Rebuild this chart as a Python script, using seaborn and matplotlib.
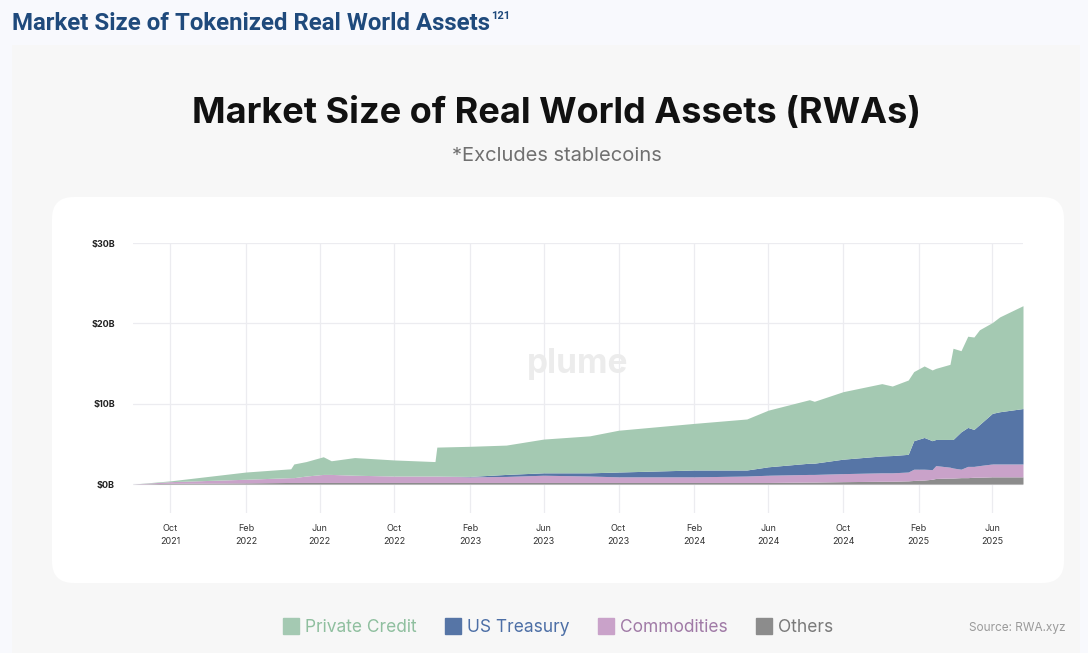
import pandas as pd
import matplotlib.pyplot as plt
import matplotlib.dates as mdates
from matplotlib.patches import FancyBboxPatch, Rectangle
from matplotlib.lines import Line2D
import seaborn as sns

# values, $ billions per category
dates = ["2021-08-01", "2021-10-01", "2022-02-01", "2022-04-15", "2022-04-20",
         "2022-05-10", "2022-06-07", "2022-06-20", "2022-07-28", "2022-10-01",
         "2022-12-06", "2022-12-09", "2023-02-01", "2023-04-01", "2023-06-01",
         "2023-08-15", "2023-10-01", "2024-02-01", "2024-04-27", "2024-06-01",
         "2024-08-07", "2024-08-15", "2024-10-01", "2024-12-03", "2024-12-20",
         "2025-01-15", "2025-01-24", "2025-02-10", "2025-02-23", "2025-03-01",
         "2025-03-24", "2025-03-29", "2025-04-11", "2025-04-22", "2025-05-02",
         "2025-05-11", "2025-06-01", "2025-06-13", "2025-07-21"]
others = [0, 0.1, 0.15, 0.2, 0.2, 0.2, 0.2, 0.2, 0.2, 0.2,
          0.2, 0.2, 0.2, 0.2, 0.2, 0.2, 0.2, 0.2, 0.2, 0.2,
          0.25, 0.25, 0.3, 0.35, 0.35, 0.4, 0.45, 0.5, 0.6, 0.7,
          0.75, 0.75, 0.8, 0.8, 0.85, 0.85, 0.9, 0.9, 0.9]
commodities = [0, 0.2, 0.45, 0.6, 0.6, 0.8, 1.0, 1.0, 0.9, 0.8,
               0.8, 0.8, 0.7, 0.75, 0.9, 0.8, 0.7, 0.7, 0.8, 0.9,
               0.95, 0.95, 1.0, 1.05, 1.05, 1.1, 1.4, 1.35, 1.2, 1.6,
               1.35, 1.25, 1.05, 1.4, 1.35, 1.45, 1.6, 1.6, 1.6]
us_treasury = [0, 0, 0, 0, 0, 0, 0, 0, 0, 0,
               0, 0, 0.05, 0.25, 0.3, 0.4, 0.6, 0.85, 0.75, 1.05,
               1.4, 1.4, 1.8, 2.1, 2.15, 2.2, 3.55, 3.95, 3.6, 3.25,
               3.45, 3.55, 4.65, 4.85, 4.6, 5.1, 6.3, 6.5, 6.9]
private_credit = [0, 0.1, 0.9, 1.1, 1.7, 1.8, 2.2, 1.7, 2.2, 2.0,
                  1.8, 3.6, 3.75, 3.65, 4.2, 4.6, 5.2, 5.8, 6.35, 7.05,
                  7.9, 7.7, 8.4, 9.0, 8.65, 9.25, 8.6, 8.9, 8.8, 8.85,
                  9.35, 11.35, 10.1, 11.35, 11.5, 11.8, 11.3, 11.8, 12.8]

series_names = ["Private Credit", "US Treasury", "Commodities", "Others"]
fill_colors = ["#a4c9b2", "#5675a6", "#c9a2c9", "#8c8c8c"]
text_colors = ["#8fbf9f", "#4d6fa6", "#a07aa6", "#7a7a7a"]

df = pd.DataFrame({"date": pd.to_datetime(dates), "Others": others,
                   "Commodities": commodities, "US Treasury": us_treasury,
                   "Private Credit": private_credit})

sns.set_style("white")
plt.rcParams["font.family"] = ["Inter", "DejaVu Sans"]

W, H = 1088, 653
fig = plt.figure(figsize=(W / 100, H / 100), dpi=100)
fig.patch.set_facecolor("#f8f9fd")

# light grey panel and white card behind the chart
fig.patches.append(Rectangle((12 / W, 0), 1068 / W, (H - 45) / H,
                             transform=fig.transFigure, facecolor="#f7f7f7",
                             edgecolor="none", zorder=-2))
fig.patches.append(FancyBboxPatch((52 / W, (H - 583) / H), 1012 / W, 386 / H,
                                  boxstyle="round,pad=0,rounding_size=0.02",
                                  mutation_aspect=W / H,
                                  transform=fig.transFigure, facecolor="white",
                                  edgecolor="none", zorder=-1))

hdr = fig.text(12 / W, 1 - 23 / H, "Market Size of Tokenized Real World Assets",
               fontsize=17.3, fontweight="bold", color="#1f4a7c", va="center",
               family=["Roboto", "DejaVu Sans"])
fig.canvas.draw()
hdr_end = hdr.get_window_extent().x1 / W
fig.text(hdr_end + 1 / W, 1 - 16 / H, "121", fontsize=8, fontweight="bold",
         color="#1f4a7c", va="center", family=["Roboto", "DejaVu Sans"])

fig.text(557 / W, 1 - 113 / H, "Market Size of Real World Assets (RWAs)",
         fontsize=26, fontweight="bold", color="#111111", ha="center", va="center")
fig.text(557 / W, 1 - 156 / H, "*Excludes stablecoins", fontsize=14.5,
         color="#707070", ha="center", va="center")

ax = fig.add_axes([133 / W, (H - 513) / H, 890 / W, 270 / H])
ax.set_zorder(2)
ax.set_facecolor("none")
ax.stackplot(df["date"], df["Others"], df["Commodities"], df["US Treasury"],
             df["Private Credit"], colors=fill_colors[::-1], linewidth=0, zorder=2)

ax.text(0.5, 0.55, "plume", transform=ax.transAxes, fontsize=24,
        fontweight="bold", color="#ececec", ha="center", va="center", zorder=1)

ax.set_xlim(df["date"].iloc[0], df["date"].iloc[-1])
ax.set_ylim(-3.6, 30)
ax.set_yticks([0, 10, 20, 30])
ax.set_yticklabels(["$0B", "$10B", "$20B", "$30B"], fontsize=6.5,
                   fontweight="bold", color="#222222")
ax.xaxis.set_major_locator(mdates.MonthLocator(bymonth=[2, 6, 10]))
ax.xaxis.set_major_formatter(mdates.DateFormatter("%b\n%Y"))
ax.tick_params(axis="x", labelsize=6.5, colors="#333333", length=0, pad=8)
ax.tick_params(axis="y", length=0, pad=13)
for lab in ax.get_xticklabels():
    lab.set_linespacing(1.6)

ax.grid(axis="y", color="#ececf0", linewidth=0.9, zorder=0)
for x in ax.get_xticks():
    ax.axvline(x, color="#ececf0", linewidth=0.9, zorder=0)
sns.despine(ax=ax, left=True, bottom=True)

handles = [Line2D([], [], marker="s", linestyle="none", markersize=12,
                  markerfacecolor=c, markeredgecolor=c) for c in fill_colors]
leg = fig.legend(handles, series_names, loc="center", ncol=4,
                 bbox_to_anchor=(558 / W, 1 - 628 / H), frameon=False,
                 fontsize=12.5, handletextpad=0.3, columnspacing=1.6,
                 handlelength=1.0)
for t, c in zip(leg.get_texts(), text_colors):
    t.set_color(c)

fig.text(1066 / W, 1 - 628 / H, "Source: RWA.xyz", fontsize=8.5,
         color="#9a9a9a", ha="right", va="center")

fig.savefig("out.png", dpi=100, facecolor=fig.get_facecolor())
